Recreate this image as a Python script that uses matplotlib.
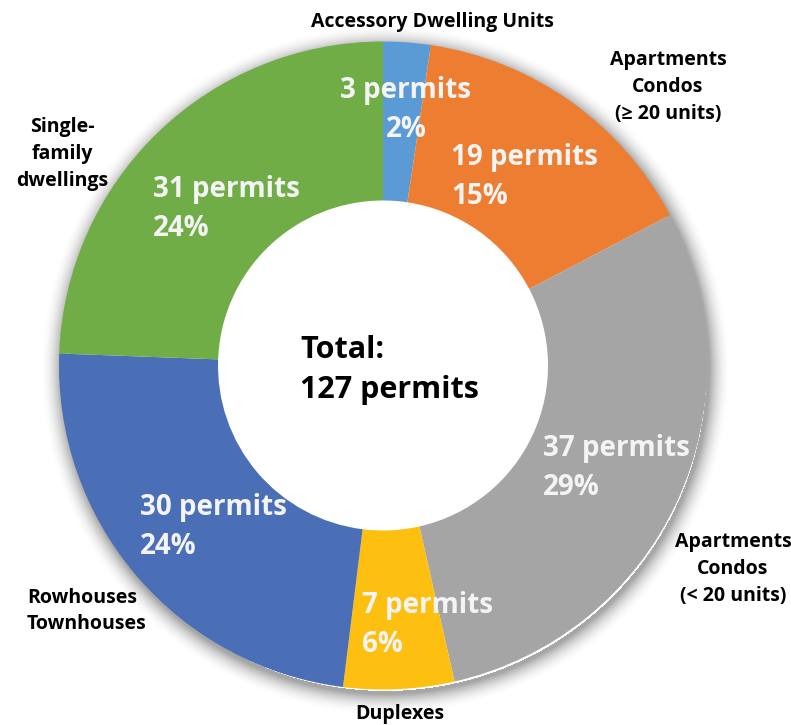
import numpy as np
import matplotlib.pyplot as plt

plt.rcParams['font.family'] = ['Open Sans', 'DejaVu Sans']

categories = ['Accessory Dwelling Units', 'Apartments\nCondos\n(≥ 20 units)',
              'Apartments\nCondos\n(< 20 units)', 'Duplexes',
              'Rowhouses\nTownhouses', 'Single-\nfamily\ndwellings']
permits = [3, 19, 37, 7, 30, 31]
colors = ['#5B9BD5', '#ED7D31', '#A5A5A5', '#FDC010', '#4A6FB6', '#70AD47']

W, H = 791, 725
cx, cy, R, ring = 383, H - 365.5, 324, 159

fig = plt.figure(figsize=(W / 100, H / 100), dpi=100)
ax = fig.add_axes([0, 0, 1, 1])

# soft drop shadow round the ring
yy, xx = np.mgrid[0:H, 0:W]
d = np.hypot(xx - (cx + 2), (H - yy) - (cy - 4))
a = np.clip(1 - (d - R) / 22, 0, 1) ** 2 * 0.35
a[d < R - 3] = 0
shadow = np.zeros((H, W, 4))
shadow[..., 3] = a
ax.imshow(shadow, extent=(0, W, 0, H), origin='upper', zorder=0)

ax.pie(permits, colors=colors, startangle=90, counterclock=False,
       radius=R, center=(cx, cy),
       wedgeprops=dict(width=ring, edgecolor='none', zorder=2))
ax.set_xlim(0, W)
ax.set_ylim(0, H)
ax.set_aspect('equal')
ax.axis('off')

total = sum(permits)

# value labels inside the ring: (x, y of block centre, alignment)
inner_pos = [(406, 110, 'center'), (451, 177, 'left'), (543, 468, 'left'),
             (362, 625, 'left'), (140, 527, 'left'), (153, 209, 'left')]
for n, (x, y, ha) in zip(permits, inner_pos):
    ax.text(x, H - y, f'{n} permits\n{round(n / total * 100)}%',
            ha=ha, va='center', fontsize=20, fontweight='bold',
            color='#F4F4F4', linespacing=1.45, multialignment=ha, zorder=3)

# category labels outside the ring
outer_pos = [(432, 22, 'center'), (668, 87, 'center'), (733, 569, 'center'),
             (400, 714, 'center'), (27, 611, 'left'), (62, 154, 'center')]
for name, (x, y, ha) in zip(categories, outer_pos):
    ax.text(x, H - y, name, ha=ha, va='center', fontsize=14,
            fontweight='bold', color='black', linespacing=1.45,
            multialignment=ha, zorder=3)

ax.text(300, H - 370, f'Total:\n{total} permits', ha='left', va='center',
        fontsize=22, fontweight='bold', color='black', linespacing=1.4, zorder=3)

plt.savefig('out.png', dpi=100)
